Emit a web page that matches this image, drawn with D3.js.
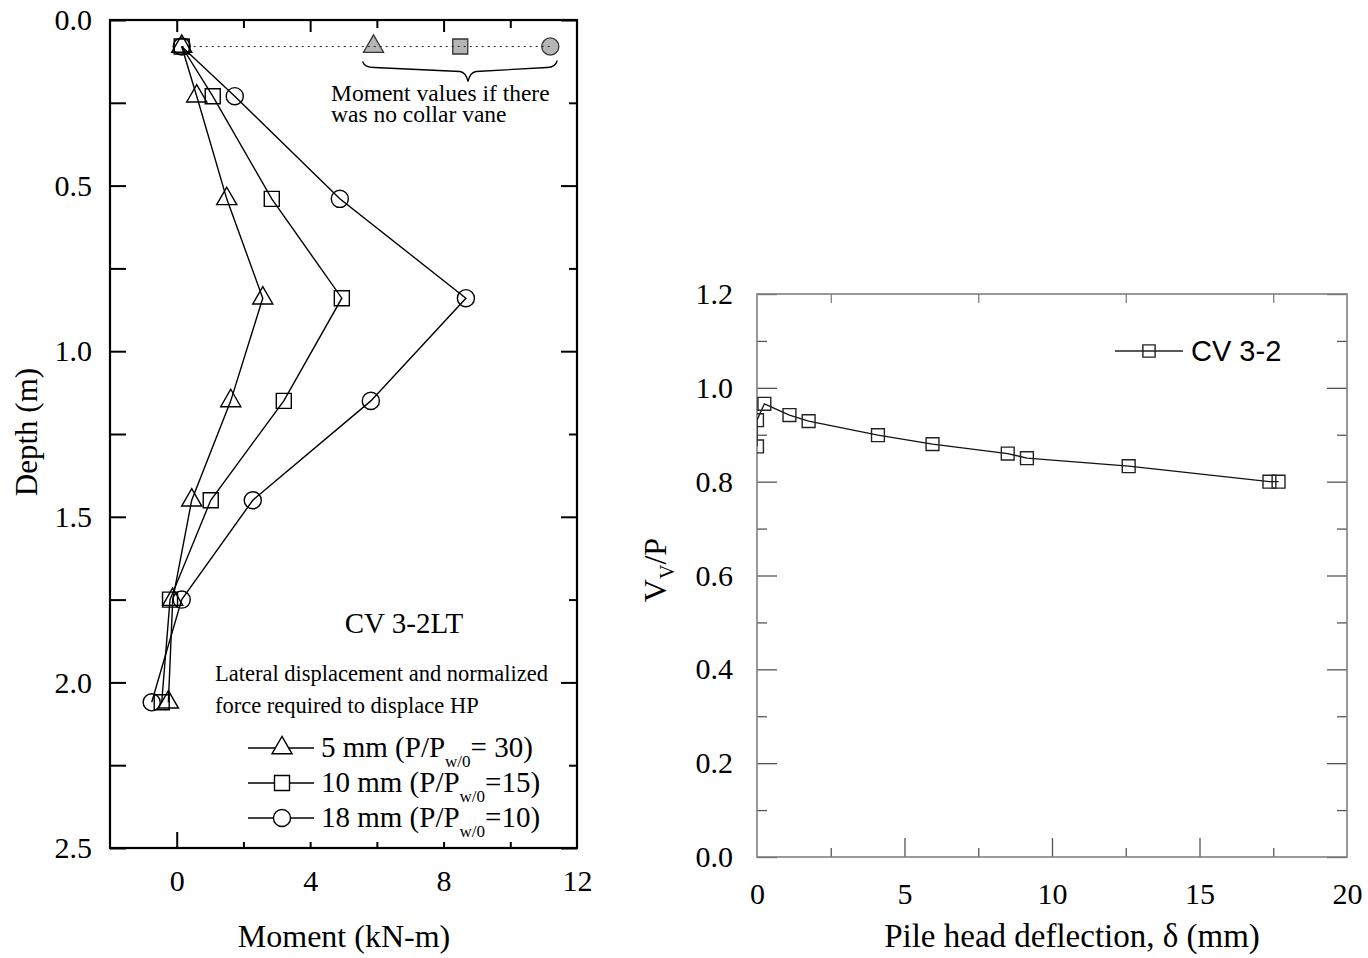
<!DOCTYPE html>
<html>
<head>
<meta charset="utf-8">
<script src="https://cdn.jsdelivr.net/npm/d3@7"></script>
<style>
  body { margin: 0; background: #fff; }
  text { font-family: "Liberation Serif", "Times New Roman", serif; fill: #000; }
</style>
</head>
<body>
<script>
// ---- left chart : moment vs depth ----
const depths = [0.08, 0.23, 0.54, 0.84, 1.15, 1.45, 1.75, 2.06];
const moment5 = [0.15, 0.6, 1.5, 2.58, 1.62, 0.45, -0.12, -0.25];
const moment10 = [0.15, 1.08, 2.85, 4.95, 3.21, 1.02, -0.2, -0.45];
const moment18 = [0.15, 1.74, 4.89, 8.67, 5.82, 2.28, 0.15, -0.75];
const noVaneDepth = 0.08;
const noVaneMoment = [5.9, 8.5, 11.2]; // 5mm, 10mm, 18mm
const legendMain = ["5 mm (P/P", "10 mm (P/P", "18 mm (P/P"];
const legendTail = ["= 30)", "=15)", "=10)"];
const depthTicks = [0, 0.5, 1, 1.5, 2, 2.5];
const momentTicks = [0, 4, 8, 12];

// ---- right chart : Vv/P vs deflection ----
const deflection = [0, 0, 0.25, 1.1, 1.75, 4.1, 5.95, 8.5, 9.15, 12.6, 17.37, 17.68];
const vRatio = [0.875, 0.931, 0.966, 0.942, 0.929, 0.899, 0.880, 0.860, 0.850, 0.833, 0.800, 0.800];
const deflTicks = [0, 5, 10, 15, 20];
const ratioTicks = [0, 0.2, 0.4, 0.6, 0.8, 1.0, 1.2];

const svg = d3.select("body").append("svg")
    .attr("width", 1368)
    .attr("height", 958);

// tick marks only (no labels, no domain line)
function tickMarks(g, axis, values, size, color, width) {
    g.call(axis.tickValues(values).tickSize(size).tickFormat(""));
    g.select(".domain").remove();
    g.selectAll("line").attr("stroke", color).attr("stroke-width", width);
}
function tickLabels(g, axis, values, fmt, pad, fs) {
    g.call(axis.tickValues(values).tickSize(0).tickPadding(pad).tickFormat(fmt));
    g.select(".domain").remove();
    g.selectAll("text").style("font-family", "Liberation Serif").attr("font-size", fs).attr("fill", "#000");
}

//================ LEFT =================
const L = {x0: 110, x1: 577, y0: 20, y1: 848};
const xL = d3.scaleLinear().domain([-2, 12]).range([L.x0, L.x1]);
const yL = d3.scaleLinear().domain([0, 2.5]).range([L.y0, L.y1]);
const gL = svg.append("g");

const quarter = d3.range(0, 2.51, 0.25);
const half = quarter.filter((d, i) => i % 2 == 0);
const quarterOnly = quarter.filter((d, i) => i % 2 == 1);

tickMarks(gL.append("g").attr("transform", `translate(${L.x0},0)`), d3.axisLeft(yL), quarter, -16, "#000", 2);
tickMarks(gL.append("g").attr("transform", `translate(${L.x1},0)`), d3.axisRight(yL), half, -16, "#000", 2);
tickMarks(gL.append("g").attr("transform", `translate(${L.x1},0)`), d3.axisRight(yL), quarterOnly, -8, "#000", 2);
tickMarks(gL.append("g").attr("transform", `translate(0,${L.y0})`), d3.axisTop(xL), [0, 4, 8], -12, "#000", 2);
tickMarks(gL.append("g").attr("transform", `translate(0,${L.y0})`), d3.axisTop(xL), [2, 6, 10], -8, "#000", 2);
tickMarks(gL.append("g").attr("transform", `translate(0,${L.y1})`), d3.axisBottom(xL), [0], -16, "#000", 2);
tickMarks(gL.append("g").attr("transform", `translate(0,${L.y1})`), d3.axisBottom(xL), [2, 4, 6, 8, 10], -6, "#000", 2);

gL.append("rect")
    .attr("x", L.x0).attr("y", L.y0)
    .attr("width", L.x1 - L.x0).attr("height", L.y1 - L.y0)
    .attr("fill", "none").attr("stroke", "#000").attr("stroke-width", 2.2);

tickLabels(gL.append("g").attr("transform", `translate(${L.x0},0)`), d3.axisLeft(yL), depthTicks, d3.format(".1f"), 18, 30);
tickLabels(gL.append("g").attr("transform", `translate(0,${L.y1})`), d3.axisBottom(xL), momentTicks, d3.format("d"), 22, 30);

gL.append("text").attr("x", 344).attr("y", 947)
    .attr("text-anchor", "middle").attr("font-size", 32).text("Moment (kN-m)");
gL.append("text").attr("transform", "translate(37,432) rotate(-90)")
    .attr("text-anchor", "middle").attr("font-size", 31).text("Depth (m)");

const seriesL = [
    {vals: moment5, sym: d3.symbolTriangle, size: 175},
    {vals: moment10, sym: d3.symbolSquare, size: 225},
    {vals: moment18, sym: d3.symbolCircle, size: 230}
];

const lineL = d3.line().x(d => xL(d[0])).y(d => yL(d[1]));

// "no collar vane" markers + dotted line
noVaneMoment.forEach((m, i) => {
    gL.append("path")
        .attr("d", d3.symbol().type(seriesL[i].sym).size(seriesL[i].size)())
        .attr("transform", `translate(${xL(m)},${yL(noVaneDepth)})`)
        .attr("fill", "#b5b5b5").attr("stroke", "#333").attr("stroke-width", 1.3);
});
gL.append("line")
    .attr("x1", xL(moment5[0])).attr("x2", xL(noVaneMoment[2]))
    .attr("y1", yL(noVaneDepth)).attr("y2", yL(noVaneDepth))
    .attr("stroke", "#222").attr("stroke-width", 1.2).attr("stroke-dasharray", "2,4");

seriesL.forEach(s => {
    const pts = s.vals.map((v, i) => [v, depths[i]]);
    gL.append("path").attr("d", lineL(pts))
        .attr("fill", "none").attr("stroke", "#000").attr("stroke-width", 1.4);
    gL.selectAll(null).data(pts).enter().append("path")
        .attr("d", d3.symbol().type(s.sym).size(s.size)())
        .attr("transform", d => `translate(${xL(d[0])},${yL(d[1])})`)
        .attr("fill", "none").attr("stroke", "#000").attr("stroke-width", 1.4);
});

// brace under the grey markers
const bx0 = xL(noVaneMoment[0]) - 11, bx1 = xL(noVaneMoment[2]) + 7, bm = 468, by = yL(noVaneDepth);
gL.append("path")
    .attr("d", `M${bx0},${by + 15} Q${bx0 + 2},${by + 21} ${bx0 + 12},${by + 21} L${bm - 8},${by + 25} Q${bm - 2},${by + 26} ${bm},${by + 35} Q${bm + 2},${by + 26} ${bm + 8},${by + 25} L${bx1 - 10},${by + 21} Q${bx1 - 2},${by + 21} ${bx1},${by + 14}`)
    .attr("fill", "none").attr("stroke", "#000").attr("stroke-width", 1.3);

gL.append("text").attr("x", 331).attr("y", 101).attr("font-size", 23.5).text("Moment values if there");
gL.append("text").attr("x", 331).attr("y", 122).attr("font-size", 23.5).text("was no collar vane");

gL.append("text").attr("x", 404).attr("y", 633).attr("text-anchor", "middle").attr("font-size", 29).text("CV 3-2LT");
gL.append("text").attr("x", 215).attr("y", 681).attr("font-size", 22.5).text("Lateral displacement and normalized");
gL.append("text").attr("x", 215).attr("y", 713).attr("font-size", 22.5).text("force required to displace HP");

// legend
seriesL.forEach((s, i) => {
    const ly = 748 + i * 35;
    gL.append("line").attr("x1", 248).attr("x2", 314).attr("y1", ly).attr("y2", ly)
        .attr("stroke", "#000").attr("stroke-width", 1.4);
    gL.append("path")
        .attr("d", d3.symbol().type(s.sym).size(s.size)())
        .attr("transform", `translate(282,${ly})`)
        .attr("fill", "#fff").attr("stroke", "#000").attr("stroke-width", 1.4);
    const t = gL.append("text").attr("x", 321).attr("y", ly + 9).attr("font-size", 29);
    t.append("tspan").text(legendMain[i]);
    t.append("tspan").attr("font-size", 17).attr("dy", 10).text("w/0");
    t.append("tspan").attr("dy", -10).text(legendTail[i]);
});

//================ RIGHT =================
const R = {x0: 757, x1: 1347, y0: 294, y1: 857};
const xR = d3.scaleLinear().domain([0, 20]).range([R.x0, R.x1]);
const yR = d3.scaleLinear().domain([0, 1.2]).range([R.y1, R.y0]);
const gR = svg.append("g");
const gray = "#808080", tickCol = "#555";

const minorY = d3.range(0.1, 1.2, 0.2);
const minorX = [2.5, 7.5, 12.5, 17.5];

tickMarks(gR.append("g").attr("transform", `translate(${R.x0},0)`), d3.axisLeft(yR), ratioTicks, -20, tickCol, 1.3);
tickMarks(gR.append("g").attr("transform", `translate(${R.x0},0)`), d3.axisLeft(yR), minorY, -10, tickCol, 1.3);
tickMarks(gR.append("g").attr("transform", `translate(${R.x1},0)`), d3.axisRight(yR), ratioTicks, -20, tickCol, 1.3);
tickMarks(gR.append("g").attr("transform", `translate(${R.x1},0)`), d3.axisRight(yR), minorY, -10, tickCol, 1.3);
tickMarks(gR.append("g").attr("transform", `translate(0,${R.y1})`), d3.axisBottom(xR), [5, 10, 15], -19, tickCol, 1.3);
tickMarks(gR.append("g").attr("transform", `translate(0,${R.y1})`), d3.axisBottom(xR), minorX, -9, tickCol, 1.3);
tickMarks(gR.append("g").attr("transform", `translate(0,${R.y0})`), d3.axisTop(xR), minorX, -9, gray, 1.3);

gR.append("rect")
    .attr("x", R.x0).attr("y", R.y0)
    .attr("width", R.x1 - R.x0).attr("height", R.y1 - R.y0)
    .attr("fill", "none").attr("stroke", gray).attr("stroke-width", 1.6);

tickLabels(gR.append("g").attr("transform", `translate(${R.x0},0)`), d3.axisLeft(yR), ratioTicks, d3.format(".1f"), 24, 30);
tickLabels(gR.append("g").attr("transform", `translate(0,${R.y1})`), d3.axisBottom(xR), deflTicks, d3.format("d"), 26, 30);

gR.append("text").attr("x", 1072).attr("y", 947)
    .attr("text-anchor", "middle").attr("font-size", 33).text("Pile head deflection, δ (mm)");
const vl = gR.append("text").attr("transform", "translate(666,570) rotate(-90)")
    .attr("text-anchor", "middle").attr("font-size", 32);
vl.append("tspan").text("V");
vl.append("tspan").attr("font-size", 20).attr("dy", 8).text("V");
vl.append("tspan").attr("dy", -8).text("/P");

svg.append("clipPath").attr("id", "clipR").append("rect")
    .attr("x", R.x0).attr("y", R.y0).attr("width", R.x1 - R.x0).attr("height", R.y1 - R.y0);

const ptsR = deflection.map((d, i) => [d, vRatio[i]]);
const plotR = gR.append("g").attr("clip-path", "url(#clipR)");
plotR.append("path")
    .attr("d", d3.line().x(d => xR(d[0])).y(d => yR(d[1]))(ptsR))
    .attr("fill", "none").attr("stroke", "#111").attr("stroke-width", 1.3);
plotR.selectAll(null).data(ptsR).enter().append("path")
    .attr("d", d3.symbol().type(d3.symbolSquare).size(165)())
    .attr("transform", d => `translate(${xR(d[0])},${yR(d[1])})`)
    .attr("fill", "none").attr("stroke", "#222").attr("stroke-width", 1.4);

// legend
gR.append("line").attr("x1", 1115).attr("x2", 1183).attr("y1", 351).attr("y2", 351)
    .attr("stroke", "#222").attr("stroke-width", 1.3);
gR.append("path").attr("d", d3.symbol().type(d3.symbolSquare).size(150)())
    .attr("transform", "translate(1149,351)")
    .attr("fill", "none").attr("stroke", "#222").attr("stroke-width", 1.4);
gR.append("text").attr("x", 1191).attr("y", 361)
    .style("font-family", "'Liberation Sans', Arial, sans-serif").attr("font-size", 29).text("CV 3-2");
</script>
</body>
</html>
